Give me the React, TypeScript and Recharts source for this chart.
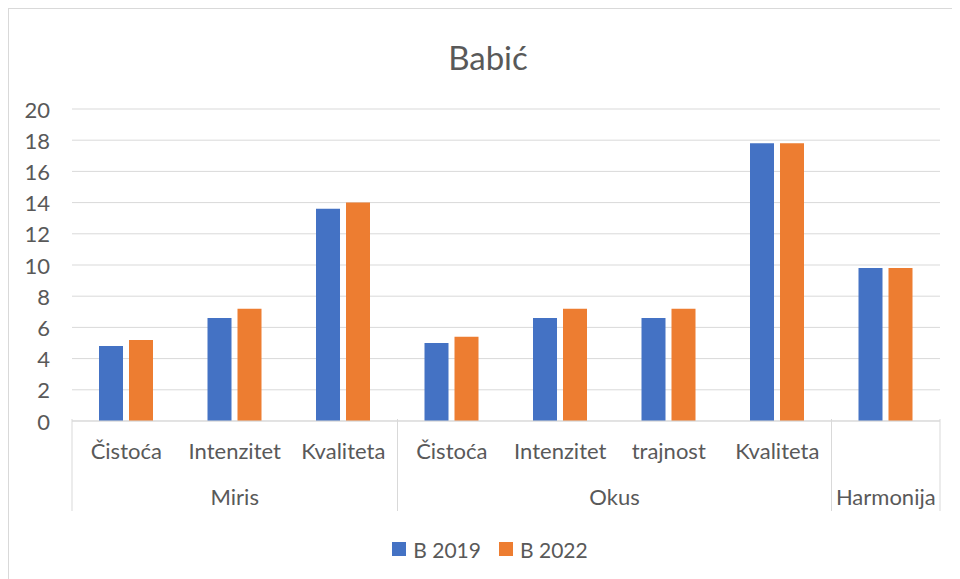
import { Bar, BarChart, CartesianGrid, Legend, XAxis, YAxis } from "recharts";

const categories = ["Čistoća", "Intenzitet", "Kvaliteta", "Čistoća", "Intenzitet", "trajnost", "Kvaliteta", ""];
const groupNames = ["Miris", "Okus", "Harmonija"];
const groupSpans = [3, 4, 1];
const b2019 = [4.8, 6.6, 13.6, 5.0, 6.6, 6.6, 17.8, 9.8];
const b2022 = [5.2, 7.2, 14.0, 5.4, 7.2, 7.2, 17.8, 9.8];
const yTicks = [0, 2, 4, 6, 8, 10, 12, 14, 16, 18, 20];

const data = categories.map((name, i) => ({ name, b2019: b2019[i], b2022: b2022[i] }));

const W = 948;
const H = 571;
const PLOT_LEFT = 63;
const PLOT_RIGHT = 931;
const PLOT_TOP = 100;
const PLOT_BOTTOM = 410;
const STEP = (PLOT_RIGHT - PLOT_LEFT) / categories.length;
const TEXT = "#595959";
const GRID = "#d9d9d9";
const FONT = "Lato, 'Open Sans', sans-serif";

const groupStarts = groupSpans.map((_, g) => groupSpans.slice(0, g).reduce((a, b) => a + b, 0));

function XTick(props: any) {
  const { x, index, payload } = props;
  const g = groupStarts.indexOf(index);
  const last = index === categories.length - 1;
  return (
    <g>
      <text x={x} y={PLOT_BOTTOM + 31} textAnchor="middle" dominantBaseline="central" fill={TEXT} fontSize={22}>
        {payload.value}
      </text>
      {g >= 0 && (
        <>
          <line x1={x - STEP / 2} x2={x - STEP / 2} y1={PLOT_BOTTOM} y2={PLOT_BOTTOM + 92} stroke={GRID} />
          <text
            x={x + ((groupSpans[g] - 1) * STEP) / 2}
            y={PLOT_BOTTOM + 77}
            textAnchor="middle"
            dominantBaseline="central"
            fill={TEXT}
            fontSize={22}
          >
            {groupNames[g]}
          </text>
        </>
      )}
      {last && <line x1={x + STEP / 2} x2={x + STEP / 2} y1={PLOT_BOTTOM} y2={PLOT_BOTTOM + 92} stroke={GRID} />}
    </g>
  );
}

function YTick(props: any) {
  const { y, payload } = props;
  return (
    <text x={41} y={y} textAnchor="end" dominantBaseline="central" fill={TEXT} fontSize={22}>
      {payload.value}
    </text>
  );
}

function LegendContent(props: any) {
  const items = props.payload || [];
  return (
    <div style={{ display: "flex", justifyContent: "center", alignItems: "center", height: 30, paddingLeft: 18, fontFamily: FONT }}>
      {items.map((it: any) => (
        <div key={it.value} style={{ display: "flex", alignItems: "center", margin: "0 9px" }}>
          <span style={{ width: 14, height: 14, background: it.color, display: "inline-block", marginRight: 7 }} />
          <span style={{ color: TEXT, fontSize: 21 }}>{it.value}</span>
        </div>
      ))}
    </div>
  );
}

export default function App() {
  return (
    <div style={{ width: W, height: H, border: `1px solid ${GRID}`, fontFamily: FONT, position: "relative" }}>
      <BarChart
        width={W}
        height={H}
        data={data}
        margin={{ top: PLOT_TOP, right: W - PLOT_RIGHT, left: PLOT_LEFT - 50, bottom: 16 }}
        barSize={24}
        barGap={6}
      >
        <text x={479} y={48} textAnchor="middle" dominantBaseline="central" fill={TEXT} fontSize={33}>
          Babić
        </text>
        <CartesianGrid vertical={false} stroke={GRID} />
        <XAxis
          dataKey="name"
          height={113}
          axisLine={{ stroke: GRID }}
          tickLine={false}
          interval={0}
          tick={<XTick />}
        />
        <YAxis width={50} domain={[0, 20]} ticks={yTicks} axisLine={false} tickLine={false} tick={<YTick />} />
        <Legend verticalAlign="bottom" height={30} content={<LegendContent />} />
        <Bar dataKey="b2019" name="B 2019" fill="#4472C4" isAnimationActive={false} />
        <Bar dataKey="b2022" name="B 2022" fill="#ED7D31" isAnimationActive={false} />
      </BarChart>
    </div>
  );
}
